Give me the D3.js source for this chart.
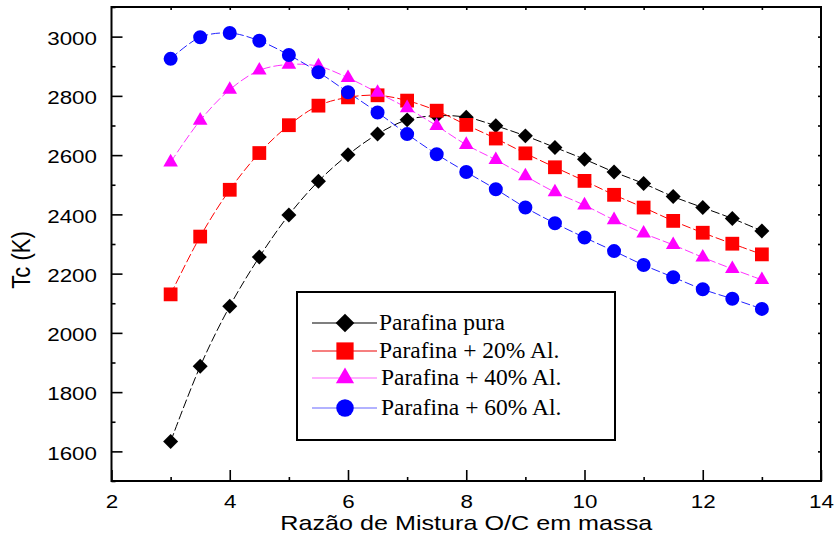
<!DOCTYPE html>
<html>
<head>
<meta charset="utf-8">
<script src="https://cdn.jsdelivr.net/npm/d3@7"></script>
<style>
  body { margin: 0; background: #fff; }
  svg { display: block; }
</style>
</head>
<body>
<div id="chart"></div>
<script>
// razao O/C em massa
var razao = [3, 3.5, 4, 4.5, 5, 5.5, 6, 6.5, 7, 7.5, 8, 8.5, 9, 9.5, 10, 10.5, 11, 11.5, 12, 12.5, 13];

// Tc (K) por mistura
var parafinaPura = [1633, 1887, 2090, 2256, 2398, 2512, 2601, 2671, 2719, 2733, 2728, 2699, 2665, 2626, 2586, 2543, 2504, 2460, 2423, 2386, 2344];
var parafina20 = [2130, 2325, 2483, 2607, 2701, 2767, 2795, 2802, 2784, 2750, 2702, 2656, 2606, 2559, 2513, 2466, 2423, 2378, 2338, 2301, 2265];
var parafina40 = [2576, 2717, 2821, 2886, 2906, 2900, 2861, 2811, 2759, 2699, 2635, 2584, 2529, 2475, 2431, 2381, 2336, 2297, 2255, 2216, 2179];
var parafina60 = [2925, 2998, 3012, 2986, 2938, 2880, 2812, 2744, 2671, 2603, 2543, 2485, 2423, 2370, 2322, 2276, 2229, 2188, 2147, 2115, 2081];

var nomes = ["Parafina pura", "Parafina + 20% Al.", "Parafina + 40% Al.", "Parafina + 60% Al."];
var xTicks = [2, 4, 6, 8, 10, 12, 14];
var yTicks = [1600, 1800, 2000, 2200, 2400, 2600, 2800, 3000];

var W = 837, H = 541;
var margin = { left: 111.5, right: 16, top: 7, bottom: 60 };
var width = W - margin.left - margin.right,
    height = H - margin.top - margin.bottom;
var STRETCH = 1.21;

var series = [
  { nome: nomes[0], vals: parafinaPura, cor: "#000000", linha: "#000000", shape: "diamond" },
  { nome: nomes[1], vals: parafina20, cor: "#ff0000", linha: "#ff0000", shape: "square" },
  { nome: nomes[2], vals: parafina40, cor: "#ff00ff", linha: "#ff33ff", shape: "triangle" },
  { nome: nomes[3], vals: parafina60, cor: "#0000ff", linha: "#2222ff", shape: "circle" }
];

var svg = d3.select("#chart").append("svg")
    .attr("width", W)
    .attr("height", H);

var g = svg.append("g")
    .attr("transform", "translate(" + margin.left + "," + margin.top + ")");

var x = d3.scaleLinear().domain([2, 14]).range([0, width]);
var y = d3.scaleLinear().domain([1500, 3100]).range([height, 0]);

function symbolPath(shape, k) {
  k = k || 1;
  if (shape == "diamond") return d3.symbol().type(d3.symbolSquare).size(112 * k * k)();
  if (shape == "square") return d3.symbol().type(d3.symbolSquare).size(190 * k * k)();
  if (shape == "triangle") return d3.symbol().type(d3.symbolTriangle).size(92 * k * k)();
  return d3.symbol().type(d3.symbolCircle).size(154 * k * k)();
}

// minor ticks
var xMinor = d3.range(3, 14, 2);
var yMinor = d3.range(1500, 3101, 100).filter(function(d){ return d % 200 != 0; });

function styleAxis(sel) {
  sel.select(".domain").remove();
  sel.selectAll("line").attr("stroke", "#000").attr("stroke-width", 1.6);
}

// bottom axis
g.append("g")
    .attr("transform", "translate(0," + height + ")")
    .call(d3.axisBottom(x).tickValues(xTicks).tickFormat(d3.format("d")).tickSize(-11).tickPadding(14).tickSizeOuter(0))
    .call(styleAxis)
    .selectAll("text")
      .attr("font-family", "Liberation Sans, Arial, sans-serif")
      .attr("font-size", "18.5px")
      .attr("fill", "#000")
      .attr("transform", "scale(" + STRETCH + ",1)");

g.append("g")
    .attr("transform", "translate(0," + height + ")")
    .call(d3.axisBottom(x).tickValues(xMinor).tickSize(-4).tickFormat("").tickSizeOuter(0))
    .call(styleAxis);

// left axis
g.append("g")
    .call(d3.axisLeft(y).tickValues(yTicks).tickFormat(d3.format("d")).tickSize(-11).tickPadding(12).tickSizeOuter(0))
    .call(styleAxis)
    .selectAll("text")
      .attr("font-family", "Liberation Sans, Arial, sans-serif")
      .attr("font-size", "18.5px")
      .attr("fill", "#000")
      .attr("dy", "0.42em")
      .attr("transform", "scale(" + STRETCH + ",1)");

g.append("g")
    .call(d3.axisLeft(y).tickValues(yMinor).tickSize(-4).tickFormat("").tickSizeOuter(0))
    .call(styleAxis);

// top + right small ticks
g.append("g")
    .call(d3.axisTop(x).tickValues(d3.range(3, 14)).tickSize(-3).tickFormat("").tickSizeOuter(0))
    .call(styleAxis);

g.append("g")
    .attr("transform", "translate(" + width + ",0)")
    .call(d3.axisRight(y).tickValues(d3.range(1600, 3100, 100)).tickSize(-3).tickFormat("").tickSizeOuter(0))
    .call(styleAxis);

// frame
g.append("rect")
    .attr("x", 0).attr("y", 0)
    .attr("width", width).attr("height", height)
    .attr("fill", "none")
    .attr("stroke", "#000")
    .attr("stroke-width", 2);

// axis titles
svg.append("text")
    .attr("transform", "translate(" + (margin.left + width / 2) + "," + 530 + ") scale(" + STRETCH + ",1)")
    .attr("text-anchor", "middle")
    .attr("font-family", "Liberation Sans, Arial, sans-serif")
    .attr("font-size", "20.8px")
    .text("Razão de Mistura O/C em massa");

svg.append("text")
    .attr("transform", "translate(30,260) scale(" + STRETCH + ",1) rotate(-90)")
    .attr("text-anchor", "middle")
    .attr("font-family", "Liberation Sans, Arial, sans-serif")
    .attr("font-size", "22px")
    .text("Tc (K)");

// lines
var line = d3.line()
    .x(function(d){ return x(d[0]); })
    .y(function(d){ return y(d[1]); })
    .curve(d3.curveCatmullRom);

series.forEach(function(s) {
  var pts = razao.map(function(r, i){ return [r, s.vals[i]]; });
  g.append("path")
      .datum(pts)
      .attr("d", line)
      .attr("fill", "none")
      .attr("stroke", s.linha)
      .attr("stroke-width", 1)
      .attr("stroke-dasharray", "9,3");
});

series.forEach(function(s) {
  var pts = razao.map(function(r, i){ return [r, s.vals[i]]; });
  g.selectAll(".m-" + s.shape)
    .data(pts)
    .enter()
    .append("path")
      .attr("class", "m-" + s.shape)
      .attr("d", symbolPath(s.shape))
      .attr("transform", function(d){
        return "translate(" + x(d[0]) + "," + y(d[1]) + ")" + (s.shape == "diamond" ? " rotate(45)" : "");
      })
      .attr("fill", s.cor);
});

// legend
var leg = svg.append("g").attr("transform", "translate(297,292)");
leg.append("rect")
    .attr("width", 318).attr("height", 148)
    .attr("fill", "#fff")
    .attr("stroke", "#000")
    .attr("stroke-width", 2);

var legRows = [31, 59, 86, 116];
var legLine = ["#000000", "#ee0000", "#ff66ff", "#6666ff"];
series.forEach(function(s, i) {
  var ry = legRows[i];
  leg.append("line")
      .attr("x1", 15).attr("x2", 80)
      .attr("y1", ry).attr("y2", ry)
      .attr("stroke", legLine[i])
      .attr("stroke-width", 1.2);
  leg.append("path")
      .attr("d", symbolPath(s.shape, 1.25))
      .attr("transform", "translate(48," + ry + ")" + (s.shape == "diamond" ? " rotate(45)" : ""))
      .attr("fill", s.cor);
  leg.append("text")
      .attr("x", i < 2 ? 82 : 84)
      .attr("y", ry + 7)
      .attr("font-family", "Liberation Serif, Times New Roman, serif")
      .attr("font-size", "23.5px")
      .attr("fill", "#000")
      .text(s.nome);
});
</script>
</body>
</html>
